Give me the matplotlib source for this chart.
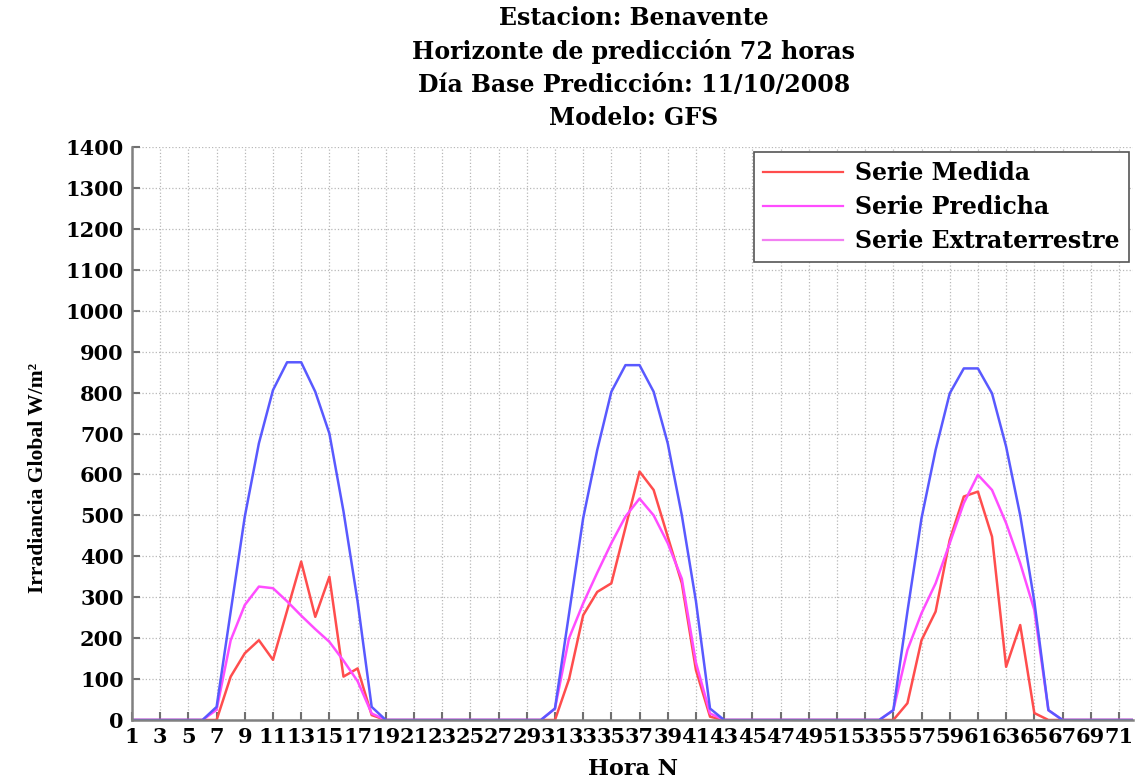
import numpy as np
import matplotlib
matplotlib.use('Agg')
import matplotlib.pyplot as plt
from matplotlib.lines import Line2D

# hours 1..72
horas = np.arange(1, 73)

# Serie Medida (red)
medida = [0, 0, 0, 0, 0, 0, 0, 106, 163, 195, 147, 267, 387, 252, 350, 106, 126, 12, 0, 0,
          0, 0, 0, 0, 0, 0, 0, 0, 0, 0, 0, 100, 256, 313, 334, 470, 607, 562, 448, 334,
          122, 8, 0, 0, 0, 0, 0, 0, 0, 0, 0, 0, 0, 0, 0, 41, 195, 265, 440, 546,
          558, 448, 130, 232, 17, 0, 0, 0, 0, 0, 0, 0]

# Serie Predicha (magenta)
predicha = [0, 0, 0, 0, 0, 0, 25, 195, 281, 326, 322, 290, 255, 222, 191, 145, 95, 16, 0, 0,
            0, 0, 0, 0, 0, 0, 0, 0, 0, 0, 28, 200, 285, 360, 432, 497, 541, 500, 432, 345,
            140, 16, 0, 0, 0, 0, 0, 0, 0, 0, 0, 0, 0, 0, 24, 171, 261, 334, 432, 530,
            599, 562, 481, 383, 269, 24, 0, 0, 0, 0, 0, 0]

# Serie Extraterrestre (blue)
extra = [0, 0, 0, 0, 0, 0, 32, 265, 497, 676, 806, 874, 874, 802, 700, 510, 290, 32, 0, 0,
         0, 0, 0, 0, 0, 0, 0, 0, 0, 0, 28, 260, 493, 660, 802, 867, 867, 802, 676, 500,
         290, 28, 0, 0, 0, 0, 0, 0, 0, 0, 0, 0, 0, 0, 24, 265, 493, 660, 798, 859,
         859, 798, 668, 500, 290, 24, 0, 0, 0, 0, 0, 0]

xticks = np.arange(1, 72, 2)
yticks = np.arange(0, 1401, 100)

titulo = ['Estacion: Benavente',
          'Horizonte de predicción 72 horas',
          'Día Base Predicción: 11/10/2008',
          'Modelo: GFS']

fnt = 'DejaVu Serif'
fnt_y = 'Liberation Serif'

fig = plt.figure(figsize=(11.37, 7.81), dpi=100)
ax = fig.add_axes([132/1137, 61/781, 1001/1137, 573/781])

c_red = (1.0, 0.3, 0.3)
c_mag = (1.0, 0.3, 1.0)
c_blue = (0.35, 0.35, 1.0)

ax.plot(horas, medida, color=c_red, lw=1.8)
ax.plot(horas, predicha, color=c_mag, lw=1.8)
ax.plot(horas, extra, color=c_blue, lw=1.8)

ax.set_xlim(1, 72)
ax.set_ylim(0, 1400)
ax.set_xticks(xticks)
ax.set_yticks(yticks)
ax.set_xticklabels([str(t) for t in xticks], family=fnt, weight='bold', fontsize=15)
ax.set_yticklabels([str(t) for t in yticks], family=fnt, weight='bold', fontsize=15)
ax.tick_params(direction='in', length=6, width=1.5, color='#707070', pad=6)
ax.tick_params(axis='x', pad=5)
ax.grid(True, linestyle=':', color='#b8b8b8', lw=0.9)

for s in ['top', 'right']:
    ax.spines[s].set_visible(False)
for s in ['left', 'bottom']:
    ax.spines[s].set_color('#808080')
    ax.spines[s].set_linewidth(1.8)

ax.set_xlabel('Hora N', family=fnt, weight='bold', fontsize=16)
ax.xaxis.set_label_coords(0.5, -0.067)
ax.set_ylabel('Irradiancia Global W/m²', family=fnt_y, weight='bold', fontsize=15.5)
ax.yaxis.set_label_coords(-0.084, 0.422)

ys = [18, 52, 85, 118]
for t, y in zip(titulo, ys):
    fig.text(634/1137, 1 - y/781, t, ha='center', va='center',
             family=fnt, weight='bold', fontsize=17)

handles = [Line2D([], [], color=c_red, lw=1.6),
           Line2D([], [], color=c_mag, lw=1.6),
           Line2D([], [], color=(0.95, 0.5, 0.95), lw=1.6)]
leg = ax.legend(handles, ['Serie Medida', 'Serie Predicha', 'Serie Extraterrestre'],
                loc='upper right', bbox_to_anchor=(0.996, 0.992), fancybox=False,
                framealpha=1, edgecolor='#555555', handlelength=3.4, handletextpad=0.5,
                prop={'family': fnt, 'weight': 'bold', 'size': 17},
                borderpad=0.4, labelspacing=0.42, borderaxespad=0)
leg.get_frame().set_linewidth(1.2)

fig.savefig('out.png', dpi=100)
